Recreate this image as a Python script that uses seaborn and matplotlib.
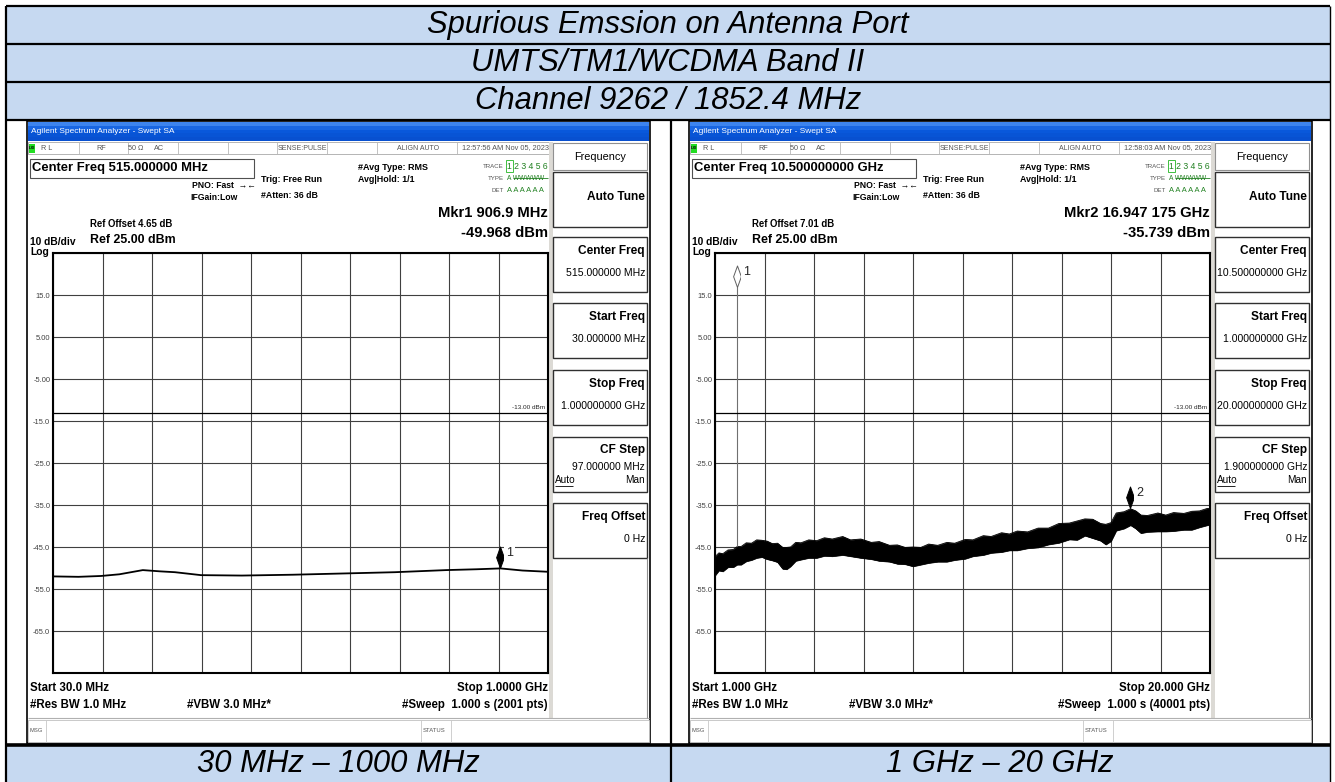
import numpy as np
import matplotlib
matplotlib.use("Agg")
import matplotlib.pyplot as plt
import seaborn as sns
from matplotlib.patches import Rectangle
from matplotlib.path import Path
from matplotlib import font_manager as fm

# ---------------- data ----------------
title_rows = ["Spurious Emssion on Antenna Port", "UMTS/TM1/WCDMA Band II", "Channel 9262 / 1852.4 MHz"]
footer_labels = ["30 MHz \u2013 1000 MHz", "1 GHz \u2013 20 GHz"]

y_grid = [-75, -65, -55, -45, -35, -25, -15, -5, 5, 15, 25]
y_tick_labels = ["", "-65.0", "-55.0", "-45.0", "-35.0", "-25.0", "-15.0", "-5.00", "5.00", "15.0", ""]
display_line = -13.0

# left sweep: 30 MHz - 1 GHz (MHz, dBm)
left_freq = [30, 80, 124, 160, 206, 240, 269, 320, 400, 500, 600, 700, 800, 860, 906.9, 950, 1000]
left_level = [-52.0, -52.1, -51.9, -51.5, -50.5, -50.8, -51.0, -51.7, -51.8, -51.6, -51.3, -51.0, -50.5, -50.3, -50.1, -50.6, -50.9]
left_marker = (906.9, -49.968)

# right sweep: 1 GHz - 20 GHz (GHz, dBm) -- noisy trace envelope
right_freq = [1.0, 1.15, 1.3, 1.5, 1.7, 1.85, 2.0, 2.2, 2.4, 2.6, 2.8, 3.0, 3.2, 3.4, 3.6, 3.75, 3.9, 4.1, 4.3,
              4.6, 4.9, 5.2, 5.5, 5.9, 6.2, 6.6, 7.0, 7.3, 7.7, 8.0, 8.3, 8.6, 8.9, 9.2, 9.55, 9.9, 10.2, 10.6,
              10.9, 11.3, 11.6, 12.0, 12.3, 12.6, 13.0, 13.4, 13.8, 14.2, 14.6, 14.9, 15.2, 15.5, 15.8, 16.0,
              16.2, 16.4, 16.7, 16.95, 17.15, 17.35, 17.6, 18.0, 18.3, 18.6, 19.0, 19.3, 19.6, 19.9, 20.0]
right_upper = [-47.3, -46.4, -46.6, -45.7, -45.6, -44.9, -44.9, -44.0, -44.1, -43.3, -43.4, -43.6, -44.2, -44.1,
               -45.1, -45.1, -45.0, -43.9, -44.0, -43.3, -43.5, -42.8, -43.1, -42.5, -43.3, -43.1, -43.9, -43.7,
               -44.6, -44.5, -45.1, -45.0, -45.1, -44.3, -44.6, -43.9, -44.1, -43.2, -43.3, -42.3, -42.5, -41.6,
               -41.9, -41.2, -41.4, -40.5, -40.5, -39.4, -39.3, -38.8, -38.3, -38.4, -39.4, -39.6, -39.2, -36.9,
               -36.6, -35.9, -36.4, -37.4, -37.5, -36.9, -37.4, -36.8, -37.0, -36.5, -36.4, -35.8, -35.9]
right_lower = [-51.8, -50.6, -50.8, -49.8, -49.8, -49.2, -49.2, -48.4, -48.1, -47.6, -47.4, -47.9, -48.2, -48.6,
               -50.2, -50.3, -49.6, -48.3, -48.0, -47.6, -47.6, -47.1, -47.2, -46.9, -47.2, -47.6, -47.9, -48.3,
               -48.5, -49.0, -49.1, -49.6, -49.2, -48.8, -48.5, -48.5, -48.1, -47.8, -47.2, -46.9, -46.4, -46.2,
               -45.8, -45.8, -45.3, -45.1, -44.4, -44.0, -43.2, -43.3, -42.3, -42.9, -43.5, -44.4, -43.6, -41.1,
               -40.6, -39.8, -40.6, -41.7, -41.4, -41.3, -41.3, -41.2, -40.9, -40.9, -40.3, -39.8, -39.7]
carrier_freq = [1.8524, 1.8524]
carrier_level = [-47.0, 16.9]
right_marker1 = (1.8524, 16.9)
right_marker2 = (16.947175, -35.739)

screens = [
    dict(time="12:57:56 AM Nov 05, 2023", center="Center Freq 515.000000 MHz", refoff="Ref Offset 4.65 dB",
         mkr1="Mkr1 906.9 MHz", mkr2="-49.968 dBm", start="Start 30.0 MHz", stop="Stop 1.0000 GHz",
         sweep="#Sweep  1.000 s (2001 pts)",
         panel=["515.000000 MHz", "30.000000 MHz", "1.000000000 GHz", "97.000000 MHz", "0 Hz"]),
    dict(time="12:58:03 AM Nov 05, 2023", center="Center Freq 10.500000000 GHz", refoff="Ref Offset 7.01 dB",
         mkr1="Mkr2 16.947 175 GHz", mkr2="-35.739 dBm", start="Start 1.000 GHz", stop="Stop 20.000 GHz",
         sweep="#Sweep  1.000 s (40001 pts)",
         panel=["10.500000000 GHz", "1.000000000 GHz", "20.000000000 GHz", "1.900000000 GHz", "0 Hz"]),
]

# ---------------- setup ----------------
sns.set_style("white")
W, H = 1335, 782


def pick(names, default):
    for n in names:
        try:
            fm.findfont(fm.FontProperties(family=n), fallback_to_default=False)
            return n
        except Exception:
            pass
    return default


NARROW = pick(["Liberation Sans Narrow", "Arial Narrow"], "Liberation Sans")
SANS = "Liberation Sans"
plt.rcParams["font.family"] = [SANS, "DejaVu Sans"]

fig = plt.figure(figsize=(W / 100, H / 100), dpi=100)
bg = fig.add_axes([0, 0, 1, 1])
bg.set_xlim(0, W)
bg.set_ylim(H, 0)
bg.axis("off")


def T(x, y, s, size, weight="normal", ha="left", va="center", color="black", fam=None, style="normal", z=4):
    bg.text(x, y, s, fontsize=size, fontweight=weight, ha=ha, va=va, color=color,
            family=[fam or NARROW, "DejaVu Sans"], fontstyle=style, zorder=z)


def R(x0, y0, x1, y1, fc="none", ec="none", lw=0.0, z=1):
    bg.add_patch(Rectangle((x0, y0), x1 - x0, y1 - y0, facecolor=fc, edgecolor=ec, linewidth=lw, zorder=z))


def L(xs, ys, color="black", lw=1.0, z=3):
    bg.plot(xs, ys, color=color, lw=lw, zorder=z, solid_capstyle="butt")


# ---------------- table ----------------
BLUE = "#c6d9f1"
R(6, 6, 1330, 119, fc=BLUE)
R(6, 744, 1330, 782, fc=BLUE)
for i, t in enumerate(title_rows):
    T(668, 25 + i * 38, t, 22.3, fam=SANS, style="italic", ha="center")
T(338, 764, footer_labels[0], 22.3, fam=SANS, style="italic", ha="center")
T(1000, 764, footer_labels[1], 22.3, fam=SANS, style="italic", ha="center")
for yy in [6, 43.5, 81.5, 119.5]:
    L([6, 1330], [yy, yy], lw=1.6)
L([6, 1330], [744.5, 744.5], lw=2.6)
L([6, 6], [6, 782], lw=1.6)
L([1330, 1330], [6, 782], lw=1.0)
L([671, 671], [119.5, 782], lw=1.6)

# title-bar gradient
grad = np.array([[0.0], [0.35], [0.6], [0.8], [1.0]])
cmap = matplotlib.colors.LinearSegmentedColormap.from_list("tb", ["#3d84ee", "#0a5ade", "#0850d0"])


def draw_screen(dx, d):
    R(27 + dx, 121, 650 + dx, 743, fc="white", ec="black", lw=1.2, z=1)
    bg.imshow(grad, extent=(28 + dx, 649 + dx, 141, 122), aspect="auto", cmap=cmap, zorder=2)
    T(31 + dx, 131.5, "Agilent Spectrum Analyzer - Swept SA", 6.0, color="white")
    # status row
    R(28 + dx, 142, 551 + dx, 154, fc="white", ec="#a8a8a8", lw=0.6, z=2)
    for sx in [79, 128, 178, 228, 277, 327, 377, 457]:
        L([sx + dx, sx + dx], [142, 154], color="#b8b8b8", lw=0.6)
    R(29 + dx, 143.5, 35 + dx, 152.5, fc="#22dd22", z=3)
    T(32 + dx, 148, "LXI", 3.0, weight="bold", ha="center")
    grey = "#555555"
    T(41 + dx, 148, "R L", 5.2, color=grey)
    T(101 + dx, 148, "RF", 5.2, color=grey, ha="center")
    T(136 + dx, 148, "50 \u03a9", 5.2, color=grey, ha="center")
    T(159 + dx, 148, "AC", 5.2, color=grey, ha="center")
    T(302 + dx, 148, "SENSE:PULSE", 5.0, color=grey, ha="center")
    T(418 + dx, 148, "ALIGN AUTO", 5.0, color=grey, ha="center")
    T(549 + dx, 148, d["time"], 5.3, color=grey, ha="right")
    # header info
    R(30 + dx, 159, 254 + dx, 178, fc="white", ec="#505050", lw=0.8, z=2)
    T(32 + dx, 168.5, d["center"], 9.4, weight="bold")
    T(192 + dx, 185, "PNO: Fast  \u2192\u2190", 6.2, weight="bold")
    T(190 + dx, 198, "IFGain:Low", 6.2, weight="bold")
    T(261 + dx, 180, "Trig: Free Run", 6.5, weight="bold")
    T(261 + dx, 196, "#Atten: 36 dB", 6.3, weight="bold")
    T(358 + dx, 167, "#Avg Type: RMS", 6.5, weight="bold")
    T(358 + dx, 179, "Avg|Hold: 1/1", 6.4, weight="bold")
    T(504 + dx, 166, "TRACE", 4.4, color=grey, ha="right")
    T(504 + dx, 178, "TYPE", 4.4, color=grey, ha="right")
    T(504 + dx, 190, "DET", 4.4, color=grey, ha="right")
    R(506 + dx, 160, 513 + dx, 172, ec="#40c040", lw=0.7, z=2)
    T(507 + dx, 166.5, "1 2 3 4 5 6", 6.2, color="#208020")
    T(507 + dx, 178, "A WWWWW", 4.8, color="#208020")
    L([513 + dx, 548 + dx], [178, 178], color="#208020", lw=0.6)
    T(507 + dx, 190, "A A A A A A", 5.4, color="#208020")
    T(548 + dx, 213, d["mkr1"], 10.6, weight="bold", ha="right")
    T(548 + dx, 233, d["mkr2"], 10.6, weight="bold", ha="right")
    T(90 + dx, 224, d["refoff"], 6.9, weight="bold")
    T(90 + dx, 240, "Ref 25.00 dBm", 8.9, weight="bold")
    T(30 + dx, 242, "10 dB/div", 7.4, weight="bold")
    T(30 + dx, 252, "Log", 7.4, weight="bold")
    # bottom info
    T(30 + dx, 688, d["start"], 8.3, weight="bold")
    T(548 + dx, 688, d["stop"], 8.3, weight="bold", ha="right")
    T(30 + dx, 705, "#Res BW 1.0 MHz", 8.3, weight="bold")
    T(187 + dx, 705, "#VBW 3.0 MHz*", 8.3, weight="bold")
    T(548 + dx, 705, d["sweep"], 8.3, weight="bold", ha="right")
    L([28 + dx, 649 + dx], [718, 718], color="#b0b0b0", lw=0.8)
    R(28 + dx, 719.5, 649 + dx, 742, fc="white", ec="#c0c0c0", lw=0.6, z=2)
    for sx in [46, 421, 451]:
        L([sx + dx, sx + dx], [719.5, 742], color="#c8c8c8", lw=0.6)
    T(30 + dx, 730, "MSG", 4.2, color=grey)
    T(423 + dx, 730, "STATUS", 4.2, color=grey)
    # side panel
    R(549 + dx, 142, 553 + dx, 718, fc="#dcdad5", z=2)
    R(553 + dx, 143, 647 + dx, 170, fc="white", ec="#909090", lw=0.8, z=2)
    T(600 + dx, 157, "Frequency", 7.8, ha="center")
    tops = [172, 237, 303, 370, 437, 503]
    names = ["Auto Tune", "Center Freq", "Start Freq", "Stop Freq", "CF Step", "Freq Offset"]
    vals = [None] + d["panel"]
    for top, nm, v in zip(tops, names, vals):
        R(553 + dx, top, 647 + dx, top + 55, fc="white", ec="#303030", lw=1.0, z=2)
        if v is None:
            T(645 + dx, top + 25, nm, 8.6, weight="bold", ha="right")
        elif nm == "CF Step":
            T(645 + dx, top + 13, nm, 8.6, weight="bold", ha="right")
            T(645 + dx, top + 30, v, 7.4, ha="right")
            T(555 + dx, top + 43, "Auto", 7.2)
            L([555 + dx, 573 + dx], [top + 48.5, top + 48.5], lw=0.6, z=5)
            T(645 + dx, top + 43, "Man", 7.2, ha="right")
        else:
            T(645 + dx, top + 14, nm, 8.6, weight="bold", ha="right")
            T(645 + dx, top + 36, v, 7.6, ha="right")
    L([647 + dx, 647 + dx], [558, 718], color="#909090", lw=0.8)


for i, d in enumerate(screens):
    draw_screen(662 * i, d)

bg.set_xlim(0, W)
bg.set_ylim(H, 0)


def plot_ax(x0, x1):
    return fig.add_axes([x0 / W, 1 - 673 / H, (x1 - x0) / W, 420 / H])


def style_ax(ax, xmin, xmax):
    ax.set_xlim(xmin, xmax)
    ax.set_ylim(-75, 25)
    ax.set_xticks(np.linspace(xmin, xmax, 11))
    ax.set_xticklabels([])
    ax.set_yticks(y_grid)
    ax.set_yticklabels(y_tick_labels, fontsize=5.4, color="#404040", family=[NARROW, "DejaVu Sans"])
    ax.tick_params(length=0, pad=2)
    ax.grid(True, color="#404040", lw=0.8)
    ax.set_axisbelow(True)
    for s in ax.spines.values():
        s.set_visible(True)
        s.set_color("black")
        s.set_linewidth(1.5)
    ax.set_xlabel("")
    ax.set_ylabel("")
    ax.axhline(display_line, color="black", lw=0.9)
    ax.text(0.995, display_line + 0.6, "-13.00 dBm", transform=ax.get_yaxis_transform(), ha="right", va="bottom",
            fontsize=4.6, family=[NARROW, "DejaVu Sans"])


diamond = Path([(0, 0), (0.36, 1), (0, 2), (-0.36, 1), (0, 0)],
               [Path.MOVETO, Path.LINETO, Path.LINETO, Path.LINETO, Path.CLOSEPOLY])


def marker(ax, x, y, label, filled=True):
    ax.plot([x], [y], marker=diamond, ms=31, mfc="black" if filled else "white",
            mec="black" if filled else "#606060", mew=0.7, ls="none", zorder=6)
    ax.annotate(label, (x, y), xytext=(4, 8.5), textcoords="offset points", fontsize=9,
                family=[NARROW, "DejaVu Sans"], zorder=7,
                bbox=dict(boxstyle="square,pad=0.15", fc="white", ec="none"))


# left plot
axl = plot_ax(53, 548)
sns.lineplot(x=left_freq, y=left_level, ax=axl, color="black", lw=1.3, estimator=None, sort=False)
style_ax(axl, 30, 1000)
marker(axl, left_marker[0], left_marker[1], "1")

# right plot
axr = plot_ax(715, 1210)
axr.fill_between(right_freq, right_lower, right_upper, color="black", lw=0.5, zorder=3)
sns.lineplot(x=right_freq, y=right_upper, ax=axr, color="black", lw=0.6, estimator=None, sort=False)
sns.lineplot(x=right_freq, y=right_lower, ax=axr, color="black", lw=0.6, estimator=None, sort=False)
sns.lineplot(x=carrier_freq, y=carrier_level, ax=axr, color="#707070", lw=0.8, estimator=None, sort=False)
style_ax(axr, 1, 20)
marker(axr, right_marker1[0], right_marker1[1], "1", filled=False)
marker(axr, right_marker2[0], right_marker2[1], "2")

fig.savefig("out.png", dpi=100)
